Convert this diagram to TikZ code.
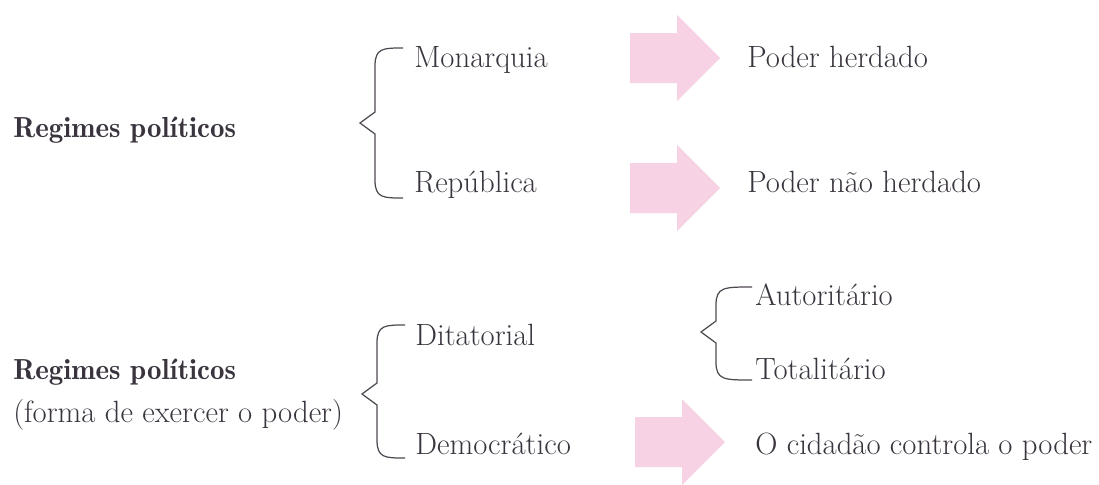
\documentclass[tikz,border=0pt]{standalone}
\usetikzlibrary{positioning,calc}

\definecolor{inkgray}{RGB}{58,52,62}
\definecolor{arrowpink}{RGB}{247,210,229}

\tikzset{
  lbl/.style={anchor=base west, inner sep=0pt, text=inkgray, font=\fontsize{17.5}{20}\selectfont},
  ttl/.style={lbl, font=\fontsize{16.5}{19}\fontseries{b}\selectfont},
  curly/.style={draw=inkgray!90, line width=0.7pt},
  bigarrow/.style={fill=arrowpink},
}

% brace from the coordinates #1t (top), #1m (tip), #1b (bottom); #2 = length of the ends
\newcommand{\curlybrace}[2]{%
  \draw[curly] ($(#1t)+(#2,0)$) .. controls ($(#1t)+(8,0)$) and (#1t) .. ($(#1t)+(0,18)$)
    -- ($(#1m)+(15,-11)$) -- (#1m) -- ($(#1m)+(15,11)$)
    -- ($(#1b)+(0,-18)$) .. controls (#1b) and ($(#1b)+(8,0)$) .. ($(#1b)+(#2,0)$);}

% thick pink arrow, #1 = middle of its left side
\newcommand{\blockarrow}[1]{%
  \fill[bigarrow] ($(#1)+(0,-25)$) -- ++(47,0) -- ++(0,-18) -- ++(43,43)
    -- ++(-43,43) -- ++(0,-18) -- ++(-47,0) -- cycle;}

\begin{document}
\begin{tikzpicture}[x=0.02cm, y=-0.02cm]
  \useasboundingbox (0,0) rectangle (1099,484);

  % hereditary or not
  \node[ttl] (tit1) at (13,137) {Regimes políticos};
  \node[lbl] (mon) at (414,67) {Monarquia};
  \node[lbl] (rep) at (414,192) {República};
  \node[lbl] (herd) at (747,67) {Poder herdado};
  \node[lbl] (nherd) at (747,192) {Poder não herdado};

  \coordinate (b1t) at (375,48);
  \coordinate (b1m) at (360,123);
  \coordinate (b1b) at (375,198);
  \curlybrace{b1}{28}

  \coordinate (a1) at (630,58);
  \coordinate (a2) at (630,188);
  \blockarrow{a1}
  \blockarrow{a2}

  % way of exercising power
  \node[ttl] (tit2) at (13,379) {Regimes políticos};
  \node[lbl] (sub2) at (13,422) {(forma de exercer o poder)};
  \node[lbl] (dit) at (415,345) {Ditatorial};
  \node[lbl] (dem) at (415,454) {Democrático};
  \node[lbl] (aut) at (755,305) {Autoritário};
  \node[lbl] (tot) at (755,379) {Totalitário};
  \node[lbl] (cid) at (755,454) {O cidadão controla o poder};

  \coordinate (b2t) at (377,325);
  \coordinate (b2m) at (362,394);
  \coordinate (b2b) at (377,458);
  \curlybrace{b2}{28}

  \coordinate (b3t) at (716,287);
  \coordinate (b3m) at (701,332);
  \coordinate (b3b) at (716,380);
  \curlybrace{b3}{36}

  \coordinate (a3) at (635,442);
  \blockarrow{a3}
\end{tikzpicture}
\end{document}
